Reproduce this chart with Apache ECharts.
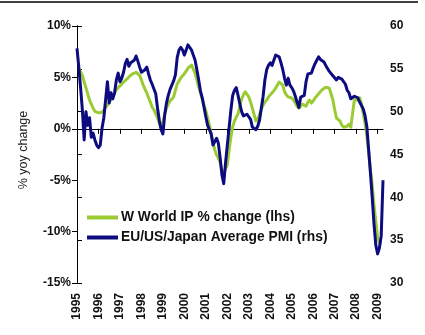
<!DOCTYPE html>
<html>
<head>
<meta charset="utf-8">
<script src="https://cdn.jsdelivr.net/npm/echarts@6/dist/echarts.min.js"></script>
<style>
  html, body { margin: 0; padding: 0; background: #fff; }
  #chart { width: 425px; height: 335px; }
</style>
</head>
<body>
<div id="chart"></div>
<script>
// Monthly series, Jan 1995 .. Apr 2009
const yearLabels = ['1995','1996','1997','1998','1999','2000','2001','2002','2003','2004','2005','2006','2007','2008','2009'];

// World industrial production, % yoy (left axis)
const worldIP = [
  null, 5.9, 5.8, 5.2, 4.55, 4.0, 3.4, 2.8, 2.4, 2.0, 1.7, 1.55,
  1.55, 1.6, 1.6, 1.8, 2.1, 2.3, 2.6, 2.8, 3.2, 3.5, 3.8, 4.0,
  4.15, 4.35, 4.55, 4.65, 4.85, 5.05, 5.15, 5.35, 5.45, 5.5, 5.5, 5.2,
  4.75, 4.25, 3.85, 3.5, 3.0, 2.6, 2.1, 1.85, 1.45, 1.05, 0.55, 0.15,
  0.65, 1.45, 2.0, 2.4, 2.7, 2.9, 3.1, 3.75, 4.35, 4.65, 4.95, 5.15,
  5.35, 5.6, 5.9, 6.0, 6.2, 5.8, 5.4, 4.75, 4.05, 3.5, 2.9, 2.3,
  1.75, 1.05, 0.35, -0.6, -1.3, -2.05, -2.55, -2.85, -3.3, -4.0, -4.3, -4.4,
  -3.5, -2.05, -0.8, 0.2, 0.75, 1.15, 1.45, 2.2, 2.9, 3.3, 3.6, 3.5,
  3.1, 2.6, 2.0, 1.35, 0.75, 0.95, 1.35, 1.9, 2.3, 2.6, 2.8, 3.1,
  3.3, 3.5, 3.7, 3.95, 4.25, 4.55, 4.55, 4.25, 3.6, 3.3, 3.1, 3.0,
  3.0, 2.8, 2.5, 2.2, 2.0, 2.1, 2.4, 2.4, 2.2, 2.6, 2.8, 2.5,
  2.7, 3.0, 3.2, 3.4, 3.6, 3.8, 3.9, 4.05, 4.05, 3.95, 3.8, 2.8,
  1.85, 1.05, 1.05, 0.75, 0.35, 0.15, 0.15, 0.25, 0.45, 0.15, 0.05, 2.8,
  2.7, 2.8, 3.0, 2.4, 1.45, 0.55, -0.7, -2.35, -4.0, -5.55, -7.5, -9.05,
  -10.6, -11.1, -11.2
];

// EU/US/Japan average manufacturing PMI (right axis)
const pmiAvg = [
  57.4, 55.2, 52.8, 50.2, 46.7, 50.0, 48.4, 49.3, 47.0, 47.5, 46.7, 46.1,
  45.8, 46.1, 48.1, 49.3, 51.4, 53.5, 51.0, 52.2, 51.5, 52.2, 53.7, 54.5,
  53.5, 53.9, 54.6, 55.6, 56.1, 55.3, 55.7, 55.6, 56.0, 56.5, 55.9, 55.2,
  54.6, 54.5, 54.9, 55.2, 54.4, 53.7, 53.2, 53.0, 52.1, 50.4, 49.0, 47.9,
  47.4, 49.6, 51.0, 51.9, 52.6, 53.1, 53.6, 54.3, 56.3, 57.2, 57.5, 57.2,
  56.6, 57.2, 57.8, 58.0, 57.2, 56.6, 56.0, 54.9, 53.7, 52.4, 51.6, 50.5,
  49.4, 48.4, 47.9, 47.4, 46.1, 46.5, 46.9, 46.3, 44.6, 42.6, 41.6, 44.0,
  46.1, 48.1, 50.2, 51.9, 52.5, 52.8, 51.9, 50.9, 50.0, 49.5, 49.4, 49.7,
  49.6, 49.1, 48.2, 48.0, 47.9, 48.3, 49.0, 50.4, 51.8, 53.7, 54.9, 55.4,
  55.7, 55.4, 56.0, 56.6, 56.8, 56.4, 55.7, 54.9, 53.9, 53.1, 53.9, 53.1,
  52.8, 52.4, 51.8, 51.1, 50.5, 51.7, 51.5, 51.9, 53.5, 54.4, 54.6, 54.5,
  55.1, 55.6, 56.0, 56.4, 56.1, 55.9, 55.8, 55.4, 55.2, 54.7, 54.5, 54.2,
  54.0, 53.7, 54.0, 53.8, 53.8, 54.0, 53.2, 52.5, 52.2, 51.5, 51.5, 51.8,
  51.8, 51.6, 51.1, 50.7, 50.3, 49.5, 48.2, 45.5, 42.8, 39.9, 36.8, 34.4,
  33.4, 34.1, 35.5, 42.0
];

const pctTicks = { min: -15, max: 10, step: 5 };
const pmiTicks = { min: 30, max: 60, step: 5 };

const yearTickValues = yearLabels.map((_, k) => k * 12);
const lastMonth = pmiAvg.length - 1;

const ipPoints = worldIP.map((v, i) => [i, v]);
const pmiPoints = pmiAvg.map((v, i) => [i, v]);

const FONT = '"Liberation Sans", Arial, sans-serif';
const GREEN = '#9bcb33';
const NAVY = '#0c0c80';

const chart = echarts.init(document.getElementById('chart'), null, { renderer: 'canvas' });

chart.setOption({
  animation: false,
  backgroundColor: '#ffffff',
  textStyle: { fontFamily: FONT },
  grid: { left: 77, right: 42, top: 26, bottom: 52, containLabel: false },
  legend: {
    orient: 'vertical',
    left: 87,
    top: 210,
    padding: 0,
    itemWidth: 31,
    itemHeight: 4,
    itemGap: 5,
    icon: 'rect',
    textStyle: { fontFamily: FONT, fontSize: 13.8, fontWeight: 'bold', color: '#111', padding: [0, 0, 0, -2], lineHeight: 15 },
    data: ['W World IP % change (lhs)', 'EU/US/Japan Average PMI (rhs)']
  },
  xAxis: [
    {
      type: 'value',
      min: 0,
      max: lastMonth,
      interval: 12,
      axisLine: { show: true, onZero: true, onZeroAxisIndex: 0, lineStyle: { color: '#000', width: 1 } },
      axisTick: { show: true, inside: false, length: 5, lineStyle: { color: '#000' }, customValues: yearTickValues },
      axisLabel: { show: false },
      splitLine: { show: false }
    },
    {
      type: 'value',
      position: 'bottom',
      min: 0,
      max: lastMonth,
      interval: 12,
      axisLine: { show: false, onZero: false },
      axisTick: { show: false },
      splitLine: { show: false },
      axisLabel: {
        show: true,
        rotate: 90,
        margin: 10,
        fontFamily: FONT,
        fontSize: 12,
        fontWeight: 'bold',
        color: '#111',
        customValues: yearTickValues,
        formatter: v => yearLabels[Math.round(v / 12)] || ''
      }
    }
  ],
  yAxis: [
    {
      type: 'value',
      position: 'left',
      min: pctTicks.min,
      max: pctTicks.max,
      interval: pctTicks.step,
      axisLine: { show: true, lineStyle: { color: '#000', width: 1 } },
      axisTick: { show: true, inside: false, length: 5, lineStyle: { color: '#000' } },
      splitLine: { show: false },
      axisLabel: {
        margin: 6,
        fontFamily: FONT, fontSize: 12, fontWeight: 'bold', color: '#111',
        formatter: v => v + '%'
      }
    },
    {
      type: 'value',
      position: 'right',
      min: pmiTicks.min,
      max: pmiTicks.max,
      interval: pmiTicks.step,
      axisLine: { show: true, lineStyle: { color: '#000', width: 1 } },
      axisTick: { show: true, inside: false, length: 5, lineStyle: { color: '#000' } },
      splitLine: { show: false },
      axisLabel: {
        margin: 7,
        fontFamily: FONT, fontSize: 12, fontWeight: 'bold', color: '#111'
      }
    }
  ],
  graphic: [
    {
      type: 'line',
      shape: { x1: 0, y1: 2, x2: 418, y2: 2 },
      style: { stroke: '#000', lineWidth: 1.5 }
    },
    {
      type: 'text',
      x: 24,
      y: 150,
      rotation: Math.PI / 2,
      style: {
        text: '% yoy change',
        fontFamily: FONT,
        fontSize: 12.5,
        fill: '#222',
        align: 'center',
        verticalAlign: 'middle'
      }
    }
  ],
  series: [
    {
      name: 'W World IP % change (lhs)',
      type: 'line',
      xAxisIndex: 0,
      yAxisIndex: 0,
      data: ipPoints,
      showSymbol: false,
      symbol: 'none',
      color: GREEN,
      lineStyle: { color: GREEN, width: 3, join: 'round' },
      z: 2
    },
    {
      name: 'EU/US/Japan Average PMI (rhs)',
      type: 'line',
      xAxisIndex: 0,
      yAxisIndex: 1,
      data: pmiPoints,
      showSymbol: false,
      symbol: 'none',
      color: NAVY,
      lineStyle: { color: NAVY, width: 3, join: 'round' },
      z: 3
    }
  ]
});
</script>
</body>
</html>
